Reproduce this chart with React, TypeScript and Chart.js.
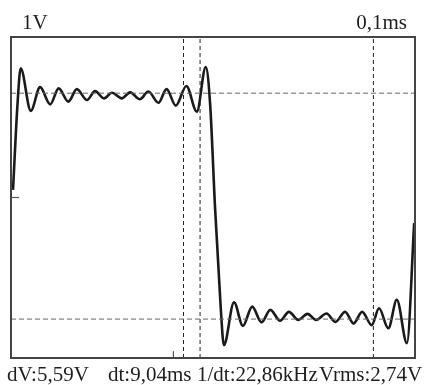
import React, { useEffect, useRef } from "react";
import { Chart, registerables } from "chart.js";
Chart.register(...registerables);

// waveform samples (time in µs, voltage in V)
const timeUs = [5, 16, 24, 49, 72, 97, 118, 142, 163, 188, 208, 230, 250, 274, 295, 319, 340, 365, 385, 408, 434, 460, 482, 493, 505, 519, 527, 552, 574, 597, 620, 642, 666, 688, 711, 734, 755, 781, 803, 827, 848, 869, 893, 911, 934, 955, 980, 998];
const volts = [0.19, 2.31, 3.22, 2.16, 2.75, 2.32, 2.72, 2.39, 2.7, 2.43, 2.65, 2.47, 2.61, 2.47, 2.62, 2.45, 2.64, 2.36, 2.7, 2.29, 2.78, 2.14, 3.25, 2.31, -0.24, -2.73, -3.68, -2.61, -3.2, -2.72, -3.11, -2.8, -3.07, -2.85, -3.05, -2.9, -3.05, -2.89, -3.1, -2.85, -3.14, -2.85, -3.18, -2.76, -3.26, -2.55, -3.63, -0.64];

// cursors
const hCursorsV = [2.6, -3.03];
const vCursorsUs = [427, 468, 897];
// small markers
const zeroMarkerUs = [0, 20];
const zeroMarkerV = 0;
const triggerMarkerUs = 402;
const triggerMarkerV = [-4, -3.83];

const xRange = [0, 1000];
const yRange = [-4, 4];

const voltLabel = "1V";
const timeLabel = "0,1ms";
const readouts = ["dV:5,59V", "dt:9,04ms", "1/dt:22,86kHz", "Vrms:2,74V"];
const readoutX = [7, 108, 197, 319];

export default function App() {
  const ref = useRef<HTMLCanvasElement>(null);
  useEffect(() => {
    if (!ref.current) return;
    const datasets: any[] = [];
    hCursorsV.forEach((v) =>
      datasets.push({
        data: [{ x: xRange[0], y: v }, { x: xRange[1], y: v }],
        borderColor: "#666",
        borderWidth: 1,
        borderDash: [5, 3],
        pointRadius: 0,
      })
    );
    vCursorsUs.forEach((t) =>
      datasets.push({
        data: [{ x: t, y: yRange[0] }, { x: t, y: yRange[1] }],
        borderColor: "#222",
        borderWidth: 1,
        borderDash: [4, 3],
        pointRadius: 0,
      })
    );
    datasets.push({
      data: zeroMarkerUs.map((t) => ({ x: t, y: zeroMarkerV })),
      borderColor: "#555",
      borderWidth: 1.2,
      pointRadius: 0,
    });
    datasets.push({
      data: triggerMarkerV.map((v) => ({ x: triggerMarkerUs, y: v })),
      borderColor: "#555",
      borderWidth: 1.2,
      pointRadius: 0,
    });
    datasets.push({
      data: timeUs.map((t, i) => ({ x: t, y: volts[i] })),
      borderColor: "#1a1a1a",
      borderWidth: 2.6,
      pointRadius: 0,
      cubicInterpolationMode: "monotone",
    });

    const framePlugin = {
      id: "frame",
      afterDraw(chart: any) {
        const { ctx, chartArea } = chart;
        ctx.save();
        ctx.strokeStyle = "#444";
        ctx.lineWidth = 2;
        ctx.strokeRect(chartArea.left, chartArea.top, chartArea.right - chartArea.left, chartArea.bottom - chartArea.top);
        ctx.fillStyle = "#1e1e1e";
        ctx.font = '21px "Liberation Serif"';
        ctx.textBaseline = "alphabetic";
        ctx.textAlign = "left";
        ctx.fillText(voltLabel, 22, 29);
        ctx.textAlign = "right";
        ctx.fillText(timeLabel, 407, 29);
        ctx.textAlign = "left";
        readouts.forEach((s, i) => ctx.fillText(s, readoutX[i], 381));
        ctx.restore();
      },
    };

    const chart = new Chart(ref.current, {
      type: "line",
      data: { datasets },
      options: {
        animation: false,
        responsive: false,
        layout: { padding: { left: 11, right: 15, top: 37, bottom: 27 } },
        plugins: { legend: { display: false }, tooltip: { enabled: false } },
        scales: {
          x: { type: "linear", min: xRange[0], max: xRange[1], display: false },
          y: { type: "linear", min: yRange[0], max: yRange[1], display: false },
        },
      },
      plugins: [framePlugin],
    });
    return () => chart.destroy();
  }, []);
  return (
    <div style={{ position: "absolute", left: 0, top: 0, width: 430, height: 385, background: "#fff" }}>
      <canvas ref={ref} width={430} height={385} />
    </div>
  );
}
